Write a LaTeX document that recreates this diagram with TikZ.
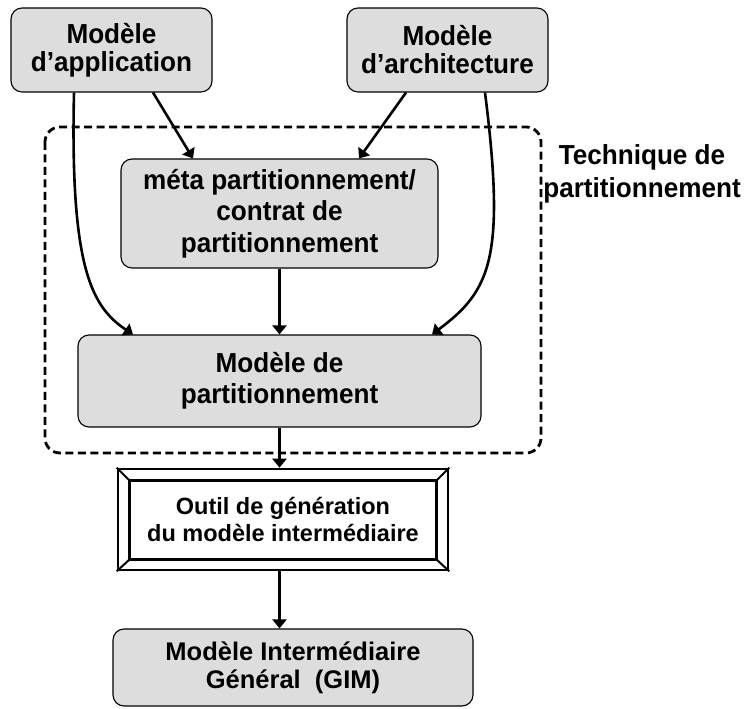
\documentclass[tikz,border=0pt]{standalone}
\usepackage{fontspec}
\setmainfont{Liberation Sans}
\newfontfamily\tallfont{Liberation Sans}[FakeStretch=0.95]
\usetikzlibrary{arrows.meta,calc}
\definecolor{boxgray}{HTML}{DDDDDD}
\tikzset{
  gbox/.style={draw, rounded corners=11pt, fill=boxgray, line width=1.1pt, align=center, inner sep=0pt},
  topfont/.style={font=\tallfont\fontsize{27.5}{28}\selectfont\bfseries},
  widefont/.style={font=\tallfont\fontsize{27.5}{31.5}\selectfont\bfseries},
  arr/.style={line width=2.6pt, -{Triangle[length=9pt,width=14pt]}},
  dashbox/.style={draw, dash pattern=on 8pt off 4.5pt, line width=2.8pt, rounded corners=15pt},
}
\begin{document}
\begin{tikzpicture}[x=1pt,y=1pt]
\useasboundingbox (0,0) rectangle (744,709);
% nodes
\node[gbox, topfont, minimum width=201pt, minimum height=84pt] (app) at (111.5,659) {Modèle\\d’application};
\node[gbox, topfont, minimum width=201pt, minimum height=84pt] (arch) at (447.5,659) {Modèle\\d’architecture};
\node[gbox, widefont, minimum width=317pt, minimum height=109pt] (meta) at (279.5,495.5) {méta partitionnement/\\contrat de\\partitionnement};
\node[gbox, widefont, minimum width=403pt, minimum height=92pt] (part) at (279.5,328) {Modèle de\\partitionnement};
\node[draw, line width=2.6pt, fill=white, minimum width=330pt, minimum height=101pt, inner sep=0pt,
      align=center, font=\fontsize{23.5}{27}\selectfont\bfseries] (outil) at (283,189.5) {Outil de génération\\du modèle intermédiaire};
\node[gbox, align=center, font=\fontsize{25.5}{28}\selectfont\bfseries, minimum width=360pt, minimum height=77pt] (gim) at (293,41.5) {Modèle Intermédiaire\\Général\ \ (GIM)};
\node[align=center, font=\tallfont\fontsize{27.5}{33}\selectfont\bfseries, inner sep=0pt] (tech) at (642,535) {Technique de\\partitionnement};
% dashed group
\coordinate (dnw) at (45,582);
\coordinate (dse) at (541,256);
\draw[dashbox] (dnw) rectangle (dse);
% outil bevel frame
\coordinate (inw) at ($(outil.north west)+(13,-13)$);
\coordinate (ine) at ($(outil.north east)+(-13,-13)$);
\coordinate (isw) at ($(outil.south west)+(13,12)$);
\coordinate (ise) at ($(outil.south east)+(-13,12)$);
\draw[line width=2.6pt] (inw) -- (ine) -- (ise) -- (isw) -- cycle;
\draw[line width=2pt] (outil.north west) -- (inw) (outil.north east) -- (ine)
  (outil.south west) -- (isw) (outil.south east) -- (ise);
% arrows
\draw[arr] ([xshift=41.5pt]app.south) -- ([xshift=-86.5pt]meta.north);
\draw[arr] ([xshift=-41.5pt]arch.south) -- ([xshift=79.5pt]meta.north);
\draw[arr] ([xshift=-37.5pt]app.south) .. controls (70,440) and (92,402) .. ([xshift=-146.5pt]part.north);
\draw[arr] ([xshift=37.5pt]arch.south) .. controls (506,450) and (490,418) .. ([xshift=152.5pt]part.north);
\draw[arr] (meta.south) -- (part.north);
\draw[arr] (part.south) -- (part.south |- outil.north);
\draw[arr] (outil.south -| part.south) -- (gim.north -| part.south);
\end{tikzpicture}
\end{document}
